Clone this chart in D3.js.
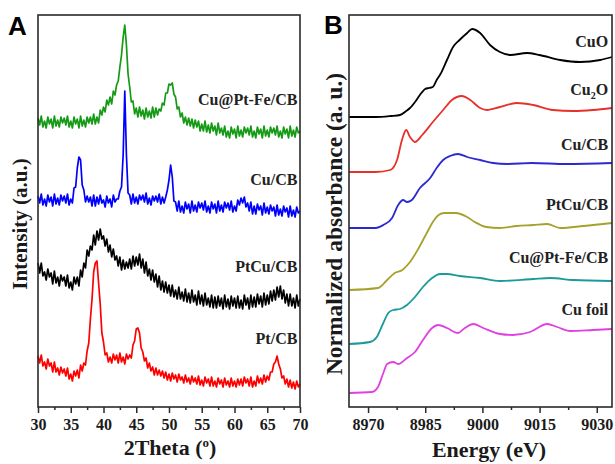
<!DOCTYPE html>
<html>
<head>
<meta charset="utf-8">
<script src="https://cdn.jsdelivr.net/npm/d3@7"></script>
<style>
  html, body { margin: 0; padding: 0; background: #fff; }
  svg text { font-family: "Liberation Serif", "Times New Roman", serif; font-weight: bold; }
</style>
</head>
<body>
<div id="fig"></div>
<script>
// ---- panel A : XRD, 2theta grid in 0.25 deg steps (one row = 5 deg) ----
const twoTheta = [
  30,30.25,30.5,30.75,31,31.25,31.5,31.75,32,32.25,32.5,32.75,33,33.25,33.5,33.75,34,34.25,34.5,34.75,
  35,35.25,35.5,35.75,36,36.25,36.5,36.75,37,37.25,37.5,37.75,38,38.25,38.5,38.75,39,39.25,39.5,39.75,
  40,40.25,40.5,40.75,41,41.25,41.5,41.75,42,42.25,42.5,42.75,43,43.25,43.5,43.75,44,44.25,44.5,44.75,
  45,45.25,45.5,45.75,46,46.25,46.5,46.75,47,47.25,47.5,47.75,48,48.25,48.5,48.75,49,49.25,49.5,49.75,
  50,50.25,50.5,50.75,51,51.25,51.5,51.75,52,52.25,52.5,52.75,53,53.25,53.5,53.75,54,54.25,54.5,54.75,
  55,55.25,55.5,55.75,56,56.25,56.5,56.75,57,57.25,57.5,57.75,58,58.25,58.5,58.75,59,59.25,59.5,59.75,
  60,60.25,60.5,60.75,61,61.25,61.5,61.75,62,62.25,62.5,62.75,63,63.25,63.5,63.75,64,64.25,64.5,64.75,
  65,65.25,65.5,65.75,66,66.25,66.5,66.75,67,67.25,67.5,67.75,68,68.25,68.5,68.75,69,69.25,69.5,69.75,
  70];

const xrdCuPtFe = [
  289,282,291,280,286,279,290,283,288,279,291,281,287,280,290,284,289,282,291,280,
  286,279,290,283,288,279,291,281,287,280,290,284,290,283,293,283,290,284,297,292,
  300,295,307,302,310,303,316,312,322,326,340,352,370,382,362,333,320,305,306,293,
  299,290,300,291,297,288,299,290,296,289,300,290,299,292,298,296,304,302,314,314,
  323,322,324,313,310,298,300,290,294,284,290,282,289,281,288,279,287,280,286,276,
  283,276,286,275,282,274,284,276,281,272,284,274,279,272,281,270,276,269,280,273,
  278,269,281,271,277,270,280,274,279,272,281,270,276,269,280,273,278,269,281,271,
  277,270,280,274,279,272,281,270,276,269,280,273,278,269,281,271,277,270,280,274,
  276];
const xrdCu = [
  211,204,213,202,208,201,212,205,210,201,213,203,209,202,212,206,211,204,213,202,
  208,204,219,220,239,250,247,222,217,205,211,205,210,201,212,201,210,203,212,204,
  207,200,211,204,208,200,212,205,208,208,216,220,252,316,252,214,212,203,213,204,
  210,203,212,207,212,205,214,203,209,202,211,206,211,205,213,203,210,204,210,217,
  227,242,230,206,205,196,206,195,201,194,205,198,203,194,206,196,202,195,205,199,
  204,197,206,195,201,194,205,198,203,194,206,196,202,195,205,199,204,197,206,195,
  201,196,207,202,209,204,210,200,204,196,205,193,201,193,203,197,201,192,204,194,
  200,193,202,196,200,191,202,192,198,191,201,195,199,190,201,191,197,190,200,194,
  196];
const xrdPtCu = [
  144,134,144,131,135,127,138,130,134,123,136,124,130,121,132,126,130,121,132,119,
  125,117,130,123,130,121,137,130,144,139,157,151,161,157,172,162,176,167,178,168,
  171,161,168,155,162,150,158,147,151,141,150,137,147,138,145,139,148,138,151,141,
  150,142,153,139,148,134,145,131,138,127,137,125,133,120,131,117,126,115,125,114,
  122,111,122,110,117,108,120,108,115,106,118,105,114,104,117,105,112,102,116,103,
  112,101,114,102,109,100,112,99,110,99,111,101,109,98,112,100,108,98,111,101,
  109,99,111,99,107,98,112,102,109,98,112,100,110,100,113,103,111,100,114,102,
  112,103,116,106,117,107,120,110,121,108,117,104,113,101,113,101,109,99,112,101,
  108];
const xrdPt = [
  51,44,52,41,45,38,48,41,44,35,45,35,39,32,40,34,38,31,39,28,
  33,26,36,31,37,29,42,36,44,42,56,64,88,108,135,144,146,124,103,74,
  65,52,54,45,50,44,53,47,52,44,54,45,50,43,53,48,52,49,62,66,
  78,79,74,59,55,46,49,39,44,36,40,32,39,32,37,31,36,29,35,27,
  33,26,34,28,32,25,33,27,30,24,32,25,29,23,31,25,29,23,31,22,
  27,21,30,24,28,21,30,21,26,20,29,23,27,20,29,22,26,20,29,21,
  26,20,28,22,28,21,30,24,28,21,30,20,26,21,31,24,29,23,32,25,
  31,27,35,35,43,45,51,43,38,29,31,23,28,20,27,19,25,18,26,20,
  23];

const xrdNames = ["Cu@Pt-Fe/CB", "Cu/CB", "PtCu/CB", "Pt/CB"];
const xrdColors = ["#159a15", "#0000ff", "#000000", "#ff0000"];
const xrdSeries = [xrdCuPtFe, xrdCu, xrdPtCu, xrdPt];
const xrdLabelY = [302, 222, 135, 63];
const xrdTicks = [30,35,40,45,50,55,60,65,70];
const xrdMinor = [32.5,37.5,42.5,47.5,52.5,57.5,62.5,67.5];

// ---- panel B : XANES ----
const cuoE = [8965,8972,8976,8978.4,8980,8981,8982.5,8983.6,8985,8986,8987,8988,8989,8990.7,8992.3,8994,8996,8997.3,8999.4,9002,9004.6,9007.3,9011.7,9015,9020.4,9025.6,9030.9,9034];
const cuoA = [290,290,291,292,296,299,306,312,318,319,320,327,333,347,360,367,374,378,374,362,355,352,354,352,347,345,347,350];
const cu2oE = [8965,8972,8975.8,8977.6,8978.9,8980,8981,8982.3,8984.2,8987,8989.7,8992,8994.6,8996.8,8999.4,9001.2,9004.6,9009,9013.3,9018.5,9023.8,9029,9034];
const cu2oA = [235,235,237,247,267,277,270,265,272,285,297,307,311,307,299,297,300,304,302,297,296,297,299];
const cucbE = [8965,8972,8974,8976.3,8977.9,8979.2,8980.2,8981.5,8983.6,8986.3,8988,8989.7,8991.5,8993.6,8996,8999.4,9002.8,9006.5,9013,9022,9034];
const cucbA = [179,179,182,189,202,207,205,207,219,229,239,247,251,253,250,247,244,243,244,243,244];
const ptcuE = [8965,8972.6,8975,8977,8979,8981,8983,8985.4,8987,8988.5,8990,8993,8996,8998,9001,9004.6,9009,9013.3,9017,9020.4,9026.5,9034];
const ptcuA = [117,119,127,134,137,145,157,174,185,192,194,194,190,185,180,179,181,182,183,179,181,184];
const cuptfeE = [8965,8970.5,8972.3,8974,8975.3,8976.6,8978.4,8980.2,8982.3,8984.4,8986.8,8988.9,8990.7,8994,8999.4,9004.6,9013.3,9017.8,9023.8,9034];
const cuptfeA = [63,65,70,84,94,97,98,102,110,120,129,133,133,131,129,126,128,129,127,126];
const foilE = [8965,8971,8972.6,8974,8975,8976.6,8977.9,8980.2,8982.3,8984.4,8986.8,8988.4,8990.7,8993.6,8995.4,8997.6,9000.2,9004.6,9008,9012.5,9017,9019.6,9023,9029,9034];
const foilA = [14,15,20,34,43,45,43,49,55,67,79,82,79,74,79,83,79,73,72,75,83,80,76,77,78];

const xanesNames = ["CuO", "Cu2O", "Cu/CB", "PtCu/CB", "Cu@Pt-Fe/CB", "Cu foil"];
const xanesColors = ["#000000", "#e8302a", "#2a2ad2", "#a6a12c", "#1b9a9a", "#e040e0"];
const xanesE = [cuoE, cu2oE, cucbE, ptcuE, cuptfeE, foilE];
const xanesA = [cuoA, cu2oA, cucbA, ptcuA, cuptfeA, foilA];
const xanesLabelY = [360, 312, 257, 197, 144, 92];
const xanesTicks = [8970, 8985, 9000, 9015, 9030];
const xanesMinor = [8977.5, 8992.5, 9007.5, 9022.5];

// ---------------------------------------------------------
const W = 615, H = 464;
const svg = d3.select("#fig").append("svg").attr("width", W).attr("height", H);

const boxA = {left: 38, right: 300, top: 15, bottom: 407};
const boxB = {left: 349, right: 612, top: 15, bottom: 407};

const xA = d3.scaleLinear().domain([30, 70]).range([boxA.left, boxA.right]);
const yA = d3.scaleLinear().domain([0, 392]).range([boxA.bottom, boxA.top]);
const xB = d3.scaleLinear().domain([8965, 9034]).range([boxB.left, boxB.right]);
const yB = d3.scaleLinear().domain([0, 392]).range([boxB.bottom, boxB.top]);

function frame(b) {
  svg.append("rect")
    .attr("x", b.left).attr("y", b.top)
    .attr("width", b.right - b.left).attr("height", b.bottom - b.top)
    .attr("fill", "none").attr("stroke", "#2a2a2a").attr("stroke-width", 1.6);
}

function bottomAxis(x, b, major, minor) {
  const g = svg.append("g").attr("transform", `translate(0,${b.bottom})`);
  g.append("g").call(d3.axisBottom(x).tickValues(minor).tickSize(3).tickFormat(""))
    .call(s => s.select(".domain").remove());
  g.append("g").call(d3.axisBottom(x).tickValues(major).tickSize(6).tickPadding(6).tickFormat(d3.format("d")))
    .call(s => s.select(".domain").remove());
  g.selectAll("line").attr("stroke", "#2a2a2a").attr("stroke-width", 1.5);
  g.selectAll("text")
    .style("font-family", "'Liberation Serif', serif")
    .style("font-weight", "bold")
    .style("font-size", "16px")
    .attr("fill", "#1a1a1a");
}

// panel A
const lineA = d3.line().x((d, i) => xA(twoTheta[i])).y(d => yA(d));
xrdSeries.forEach((s, k) => {
  svg.append("path").datum(s)
    .attr("d", lineA)
    .attr("fill", "none")
    .attr("stroke", xrdColors[k])
    .attr("stroke-width", 1.7)
    .attr("stroke-linejoin", "round");
  svg.append("text")
    .attr("x", xA(69.6)).attr("y", yA(xrdLabelY[k]))
    .attr("text-anchor", "end")
    .style("font-size", "16px")
    .attr("fill", "#222")
    .text(xrdNames[k]);
});
frame(boxA);
bottomAxis(xA, boxA, xrdTicks, xrdMinor);

// panel B
xanesA.forEach((s, k) => {
  const pts = s.map((v, i) => [xanesE[k][i], v]);
  svg.append("path").datum(pts)
    .attr("d", d3.line().curve(d3.curveMonotoneX).x(d => xB(d[0])).y(d => yB(d[1])))
    .attr("fill", "none")
    .attr("stroke", xanesColors[k])
    .attr("stroke-width", 1.8);
});
xanesNames.forEach((n, k) => {
  const t = svg.append("text")
    .attr("x", xB(9033)).attr("y", yB(xanesLabelY[k]))
    .attr("text-anchor", "end")
    .style("font-size", "16px")
    .attr("fill", "#222");
  if (n === "Cu2O") {
    t.append("tspan").text("Cu");
    t.append("tspan").attr("dy", 4).style("font-size", "10px").text("2");
    t.append("tspan").attr("dy", -4).text("O");
  } else {
    t.text(n);
  }
});
frame(boxB);
bottomAxis(xB, boxB, xanesTicks, xanesMinor);

// axis titles
const tA = svg.append("text").attr("x", 170).attr("y", 455).attr("text-anchor", "middle")
  .style("font-size", "22px").attr("fill", "#1a1a1a");
tA.append("tspan").text("2Theta (");
tA.append("tspan").attr("dy", -8).style("font-size", "13px").text("o");
tA.append("tspan").attr("dy", 8).text(")");

svg.append("text").attr("x", 489).attr("y", 457).attr("text-anchor", "middle")
  .style("font-size", "22px").attr("fill", "#1a1a1a").text("Energy (eV)");

svg.append("text").attr("transform", "translate(27,224) rotate(-90)")
  .attr("text-anchor", "middle").style("font-size", "21px").attr("fill", "#1a1a1a")
  .text("Intensity (a.u.)");

svg.append("text").attr("transform", "translate(342,224) rotate(-90)")
  .attr("text-anchor", "middle").style("font-size", "23.5px").attr("fill", "#1a1a1a")
  .text("Normalized absorbance (a. u.)");

// panel letters
svg.append("text").attr("x", 8).attr("y", 35)
  .style("font-family", "'Liberation Sans', Arial, sans-serif").style("font-size", "26px").text("A");
svg.append("text").attr("x", 324).attr("y", 34)
  .style("font-family", "'Liberation Sans', Arial, sans-serif").style("font-size", "26px").text("B");
</script>
</body>
</html>
